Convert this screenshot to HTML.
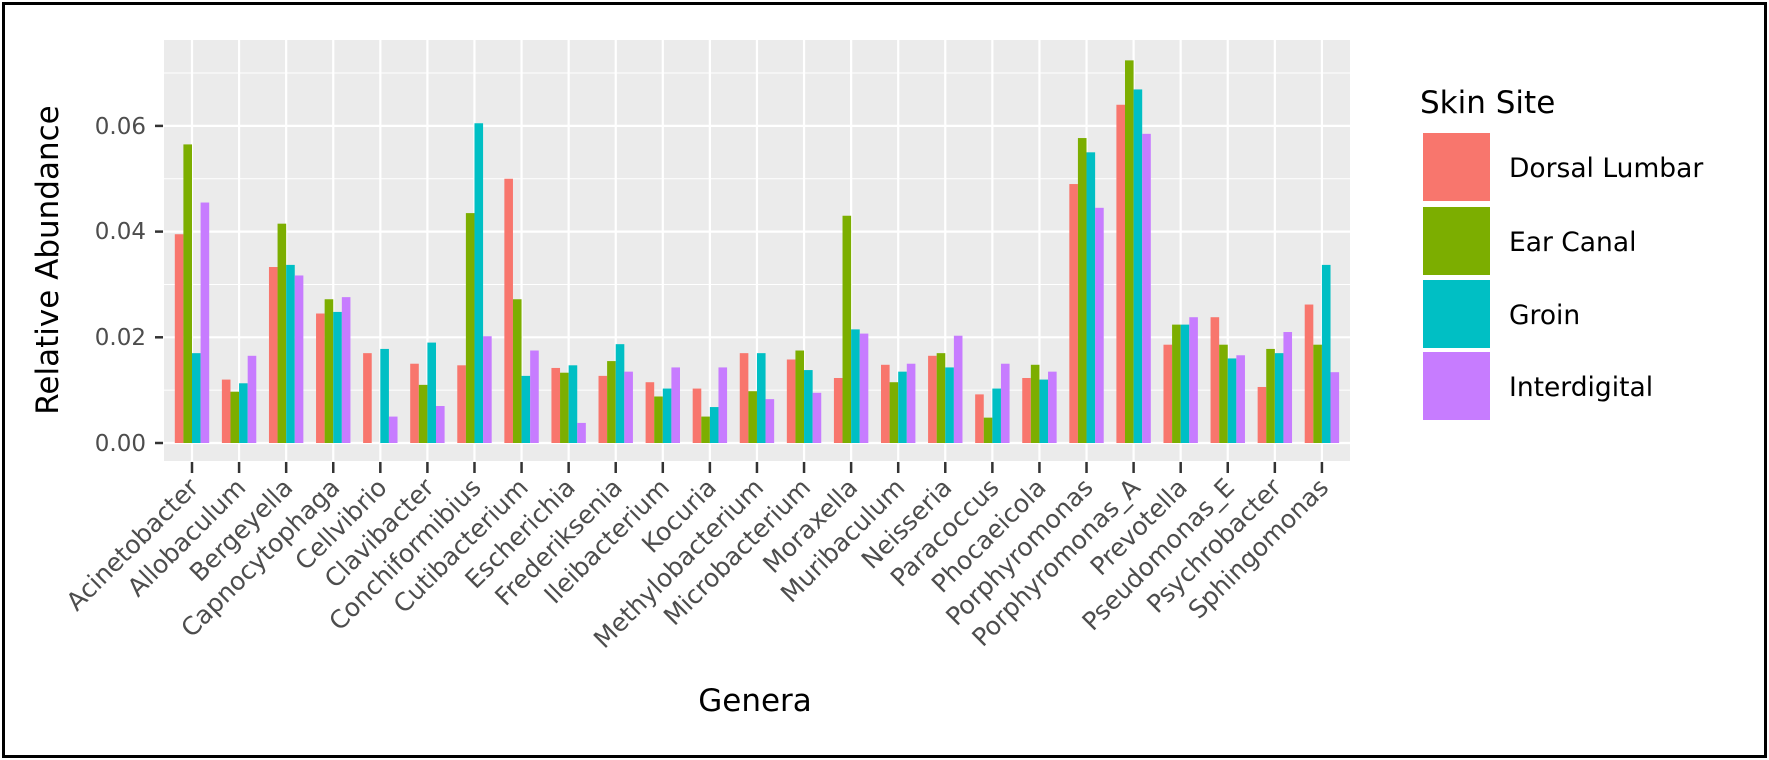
<!DOCTYPE html>
<html><head><meta charset="utf-8"><style>
html,body{margin:0;padding:0;background:#fff}
svg{display:block}
text{font-family:"DejaVu Sans","Liberation Sans",sans-serif}
</style></head><body>
<svg id="s" width="1769" height="760" xmlns="http://www.w3.org/2000/svg">
<rect x="0" y="0" width="1769" height="760" fill="#fff"/>
<rect x="3.5" y="3.5" width="1762" height="753" fill="none" stroke="#000" stroke-width="3"/>
<rect x="164" y="40" width="1186" height="421" fill="#EBEBEB"/>
<g id="grid"></g>
<g id="bars"></g>
<g fill="#4d4d4d" font-size="23" text-anchor="end">
<text x="146" y="451">0.00</text>
<text x="146" y="345">0.02</text>
<text x="146" y="239">0.04</text>
<text x="146" y="134">0.06</text>
</g>
<g stroke="#333" stroke-width="2.5">
<line x1="155" y1="443" x2="163" y2="443"/>
<line x1="155" y1="337.3" x2="163" y2="337.3"/>
<line x1="155" y1="231.6" x2="163" y2="231.6"/>
<line x1="155" y1="125.9" x2="163" y2="125.9"/>
</g>
<g id="xt"></g>
<g id="xl" fill="#4d4d4d" font-size="25" text-anchor="end">
<text>Acinetobacter</text><text>Allobaculum</text><text>Bergeyella</text><text>Capnocytophaga</text><text>Cellvibrio</text><text>Clavibacter</text><text>Conchiformibius</text><text>Cutibacterium</text><text>Escherichia</text><text>Frederiksenia</text><text>Ileibacterium</text><text>Kocuria</text><text>Methylobacterium</text><text>Microbacterium</text><text>Moraxella</text><text>Muribaculum</text><text>Neisseria</text><text>Paracoccus</text><text>Phocaeicola</text><text>Porphyromonas</text><text>Porphyromonas_A</text><text>Prevotella</text><text>Pseudomonas_E</text><text>Psychrobacter</text><text>Sphingomonas</text>
</g>
<text x="58" y="260" font-size="31" fill="#000" text-anchor="middle" transform="rotate(-90 58 260)">Relative Abundance</text>
<text x="755" y="711" font-size="31" fill="#000" text-anchor="middle">Genera</text>
<text x="1420" y="113" font-size="31" fill="#000">Skin Site</text>
<rect x="1423" y="133" width="67" height="68" fill="#F8766D"/>
<rect x="1423" y="207" width="67" height="68" fill="#7CAE00"/>
<rect x="1423" y="280" width="67" height="68" fill="#00BFC4"/>
<rect x="1423" y="352" width="67" height="68" fill="#C77CFF"/>
<g font-size="26.5" fill="#000">
<text x="1509" y="177">Dorsal Lumbar</text>
<text x="1509" y="251">Ear Canal</text>
<text x="1509" y="324">Groin</text>
<text x="1509" y="396">Interdigital</text>
</g>
</svg>
<script>
var NS="http://www.w3.org/2000/svg";
function el(p,n,a){var e=document.createElementNS(NS,n);for(var k in a)e.setAttribute(k,a[k]);p.appendChild(e);return e;}
var y0=443,k=5285,L=164,R=1350,T=40,B=461,x0=192,st=47.08;
var g=document.getElementById('grid');
[0.01,0.03,0.05,0.07].forEach(function(v){var y=y0-v*k;el(g,'line',{x1:L,x2:R,y1:y,y2:y,stroke:'#fff','stroke-width':1});});
[0,0.02,0.04,0.06].forEach(function(v){var y=y0-v*k;el(g,'line',{x1:L,x2:R,y1:y,y2:y,stroke:'#fff','stroke-width':2.2});});
for(var i=0;i<25;i++){var x=x0+st*i;el(g,'line',{x1:x,x2:x,y1:T,y2:B,stroke:'#fff','stroke-width':2.2});}
var d=[[0.0395,0.0565,0.017,0.0455],[0.012,0.0097,0.0113,0.0165],[0.0333,0.0415,0.0337,0.0317],[0.0245,0.0272,0.0248,0.0276],[0.017,0,0.0178,0.005],[0.015,0.011,0.019,0.007],[0.0147,0.0435,0.0605,0.0202],[0.050,0.0272,0.0127,0.0175],[0.0142,0.0133,0.0147,0.0038],[0.0127,0.0155,0.0187,0.0135],[0.0115,0.0088,0.0103,0.0143],[0.0103,0.005,0.0068,0.0143],[0.017,0.0098,0.017,0.0083],[0.0158,0.0175,0.0138,0.0095],[0.0123,0.043,0.0215,0.0207],[0.0148,0.0115,0.0135,0.015],[0.0165,0.017,0.0143,0.0203],[0.0092,0.0048,0.0103,0.015],[0.0123,0.0148,0.012,0.0135],[0.049,0.0577,0.055,0.0445],[0.064,0.0724,0.0669,0.0585],[0.0186,0.0224,0.0224,0.0238],[0.0238,0.0186,0.016,0.0166],[0.0106,0.0178,0.017,0.021],[0.0262,0.0186,0.0337,0.0134]];
var c=['#F8766D','#7CAE00','#00BFC4','#C77CFF'];
var b=document.getElementById('bars'),bw=8.6;
d.forEach(function(r,i){var xc=x0+st*i;r.forEach(function(v,j){if(v<=0)return;var h=v*k;el(b,'rect',{x:xc-2*bw+j*bw,y:y0-h,width:bw,height:h,fill:c[j]});});});
var xt=document.getElementById('xt');
var ls=document.getElementById('xl').children;
for(var i=0;i<25;i++){var x=x0+st*i;el(xt,'line',{x1:x,x2:x,y1:462,y2:473,stroke:'#333','stroke-width':2.5});
var t=ls[i],tx=x+8,ty=489;t.setAttribute('x',tx);t.setAttribute('y',ty);t.setAttribute('transform','rotate(-45 '+tx+' '+ty+')');}
</script>
</body></html>
